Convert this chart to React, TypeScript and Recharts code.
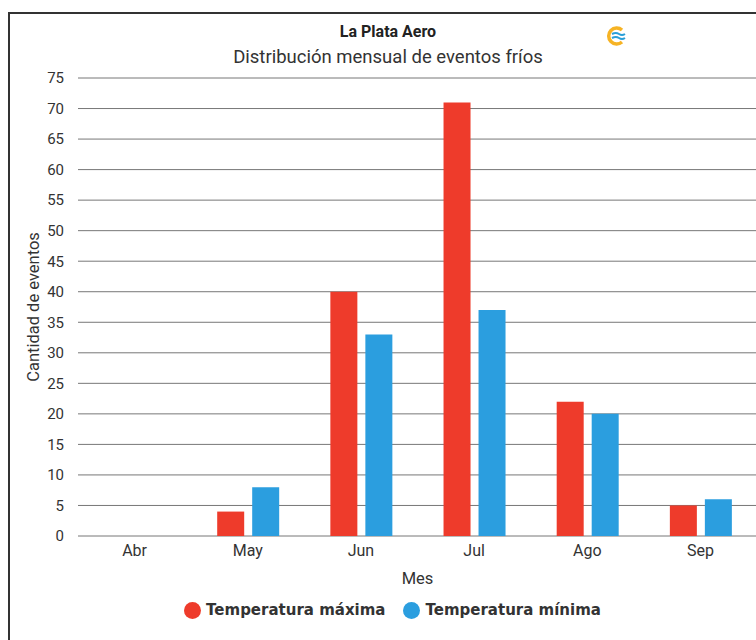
import React from 'react';
import { BarChart, Bar, XAxis, YAxis, CartesianGrid, Legend } from 'recharts';

const months = ['Abr', 'May', 'Jun', 'Jul', 'Ago', 'Sep'];
const tempMax = [0, 4, 40, 71, 22, 5];
const tempMin = [0, 8, 33, 37, 20, 6];
const yTicks = [0, 5, 10, 15, 20, 25, 30, 35, 40, 45, 50, 55, 60, 65, 70, 75];
const boundaryTicks = [0, 1, 2, 3, 4, 5, 6];

const RED = '#EE3B2B';
const BLUE = '#2B9EDF';

const data = months.map((m, i) => ({ mes: m, max: tempMax[i], min: tempMin[i] }));

const legendItems = [
  { label: 'Temperatura máxima', color: RED },
  { label: 'Temperatura mínima', color: BLUE },
];

const LegendContent = () => (
  <div style={{ height: 30, display: 'flex', justifyContent: 'center', alignItems: 'center', fontFamily: 'DejaVu Sans', fontWeight: 'bold', fontSize: 15, color: '#333', paddingLeft: 0 }}>
    {legendItems.map((it, i) => (
      <span key={it.label} style={{ display: 'inline-flex', alignItems: 'center', marginLeft: i === 0 ? 0 : 18 }}>
        <span style={{ display: 'inline-block', width: 17, height: 17, borderRadius: 9, background: it.color, marginRight: 5 }} />
        {it.label}
      </span>
    ))}
  </div>
);

export default function App() {
  return (
    <div style={{ position: 'fixed', left: 0, top: 0, width: 756, height: 640, overflow: 'hidden', background: '#fff' }}>
      <div style={{ position: 'absolute', left: 8, top: 12, width: 800, height: 700, border: '2px solid #333', boxSizing: 'border-box' }}>
        <BarChart
          width={760}
          height={626}
          data={data}
          margin={{ top: 64, right: 13, left: 18, bottom: 15 }}
          barCategoryGap="23%"
          barGap={8}
          style={{ fontFamily: 'Roboto' }}
        >
          <CartesianGrid vertical={false} stroke="#777" xAxisId="cat" />
          <XAxis
            xAxisId="grid"
            type="number"
            domain={[0, 6]}
            ticks={boundaryTicks}
            allowDataOverflow
            height={0}
            tick={false}
            stroke="#666"
            tickSize={5}
          />
          <XAxis
            xAxisId="cat"
            dataKey="mes"
            axisLine={false}
            tickLine={false}
            height={59}
            tick={{ fill: '#333', fontSize: 16 }}
            tickMargin={3}
            label={{ value: 'Mes', position: 'insideBottom', offset: 11, fill: '#333', fontSize: 16.5 }}
          />
          <YAxis
            domain={[0, 75]}
            ticks={yTicks}
            width={50}
            axisLine={false}
            tickLine={false}
            tickMargin={8}
            tick={{ fill: '#333', fontSize: 15 }}
            interval={0}
            label={{ value: 'Cantidad de eventos', angle: -90, position: 'insideLeft', offset: 5, fill: '#333', fontSize: 16.5, style: { textAnchor: 'middle' } }}
          />
          <Legend verticalAlign="bottom" content={<LegendContent />} />
          <Bar dataKey="max" name="Temperatura máxima" fill={RED} xAxisId="cat" isAnimationActive={false} />
          <Bar dataKey="min" name="Temperatura mínima" fill={BLUE} xAxisId="cat" isAnimationActive={false} />
        </BarChart>
      </div>
      <svg width={756} height={80} style={{ position: 'absolute', left: 0, top: 0, pointerEvents: 'none' }}>
        <text x={388} y={37} textAnchor="middle" fontFamily="Roboto" fontWeight="bold" fontSize={16} fill="#222">La Plata Aero</text>
        <text x={388} y={63} textAnchor="middle" fontFamily="Roboto" fontSize={18.5} fill="#333">Distribución mensual de eventos fríos</text>
        <g transform="translate(615,36)">
          <path d="M 7 -6 A 8 8 0 1 0 7 6" fill="none" stroke="#F6B324" strokeWidth={3.5} />
          <path d="M -3 -2 Q 1 -4 4 -2 T 10 -2" fill="none" stroke="#2A9FD8" strokeWidth={2} />
          <path d="M -3 2 Q 1 0 4 2 T 10 2" fill="none" stroke="#2A9FD8" strokeWidth={2} />
        </g>
      </svg>
    </div>
  );
}
